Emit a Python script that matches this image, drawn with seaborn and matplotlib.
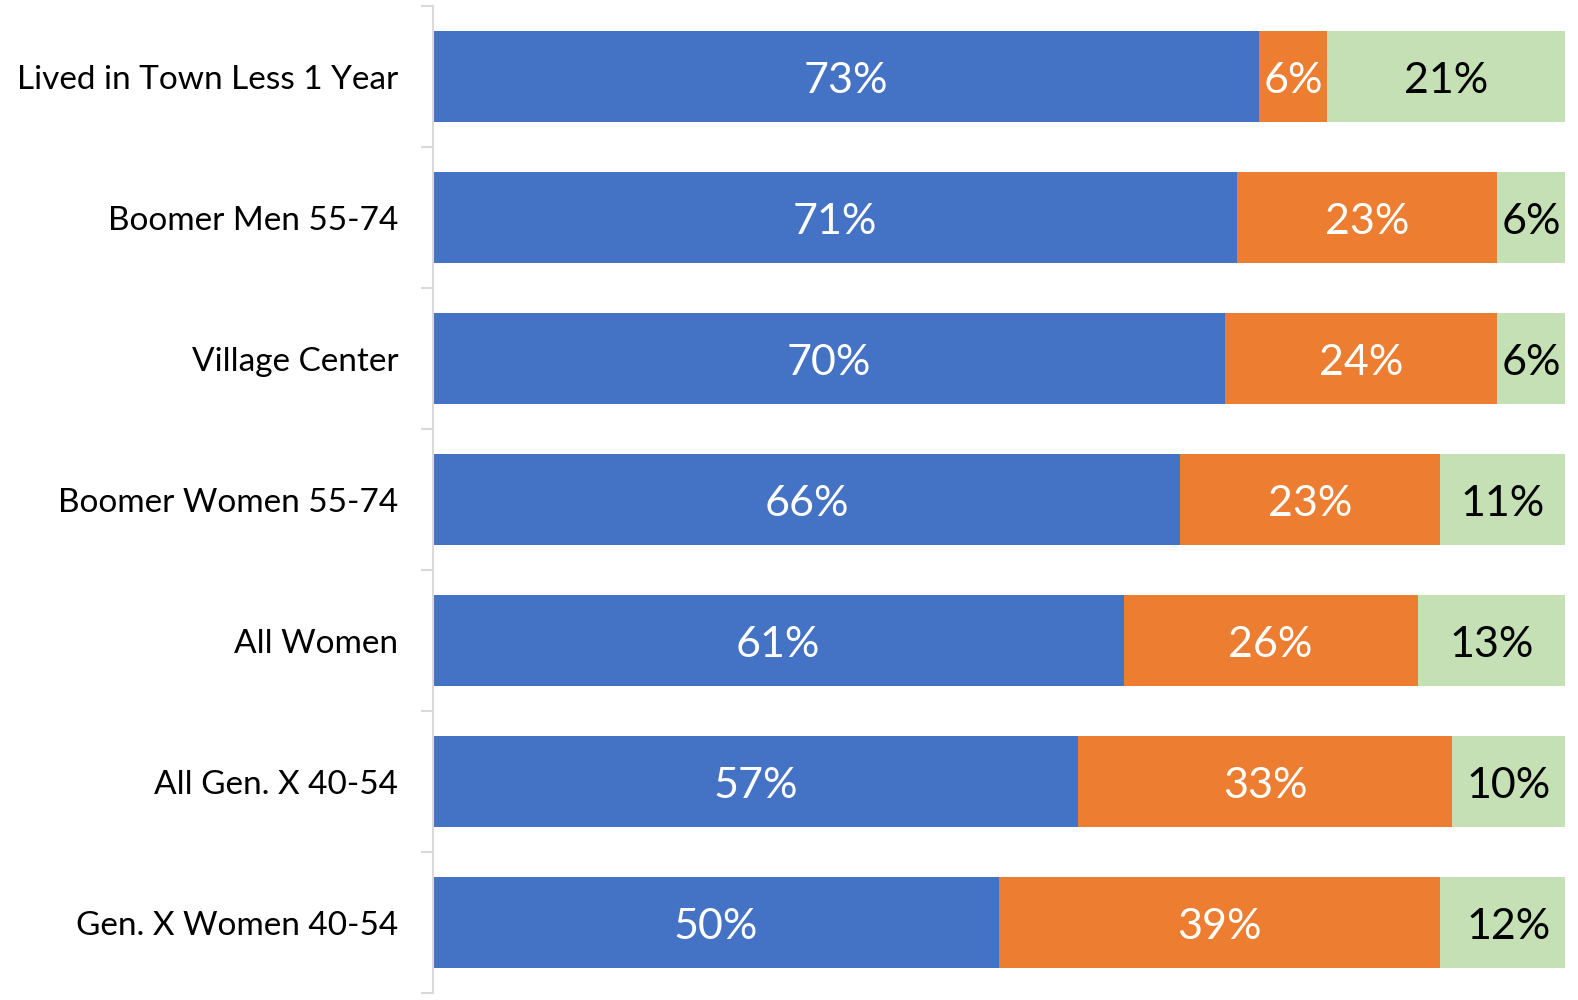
import pandas as pd
import matplotlib
matplotlib.use("Agg")
import matplotlib.pyplot as plt
import seaborn as sns

# Data
groups = ["Lived in Town Less 1 Year", "Boomer Men 55-74", "Village Center",
          "Boomer Women 55-74", "All Women", "All Gen. X 40-54", "Gen. X Women 40-54"]
blue_vals = [73, 71, 70, 66, 61, 57, 50]
orange_vals = [6, 23, 24, 23, 26, 33, 39]
green_vals = [21, 6, 6, 11, 13, 10, 12]

colors = ["#4472C4", "#ED7D31", "#C5E0B4"]
text_colors = ["white", "white", "black"]

sns.set_style("white")
plt.rcParams["font.family"] = ["Lato", "DejaVu Sans"]

df = pd.DataFrame({"group": groups, "blue": blue_vals,
                   "orange": orange_vals, "green": green_vals})
df["c1"] = df["blue"]
df["c2"] = df["blue"] + df["orange"]
df["c3"] = df["c2"] + df["green"]

fig = plt.figure(figsize=(15.78, 10), dpi=100)
ax = fig.add_axes([433 / 1578, 0.007, (1565 - 433) / 1578, 0.987])

# stacked bars: draw cumulative totals from the back to the front
for col, color in zip(["c3", "c2", "c1"], colors[::-1]):
    sns.barplot(data=df, x=col, y="group", orient="h", color=color,
                width=0.65, saturation=1, ax=ax, linewidth=0)

# segment labels
for i, row in df.iterrows():
    left = 0
    for key, tc in zip(["blue", "orange", "green"], text_colors):
        v = row[key]
        ax.text(left + v / 2, i + 0.03, f"{v}%", ha="center", va="center",
                color=tc, fontsize=31)
        left += v

ax.set_xlim(0, 100)
ax.set_ylim(6.5, -0.5)
ax.set_xlabel("")
ax.set_ylabel("")
ax.set_xticks([])
ax.tick_params(axis="y", which="major", left=False, length=0, labelsize=24,
               pad=25, labelcolor="black")
ax.set_yticks([i - 0.5 for i in range(len(groups) + 1)], minor=True)
ax.tick_params(axis="y", which="minor", left=True, length=9, width=1.5, color="#D9D9D9")

for s in ["top", "right", "bottom"]:
    ax.spines[s].set_visible(False)
ax.spines["left"].set_color("#D9D9D9")
ax.spines["left"].set_linewidth(1.5)

fig.savefig("out.png", dpi=100)
